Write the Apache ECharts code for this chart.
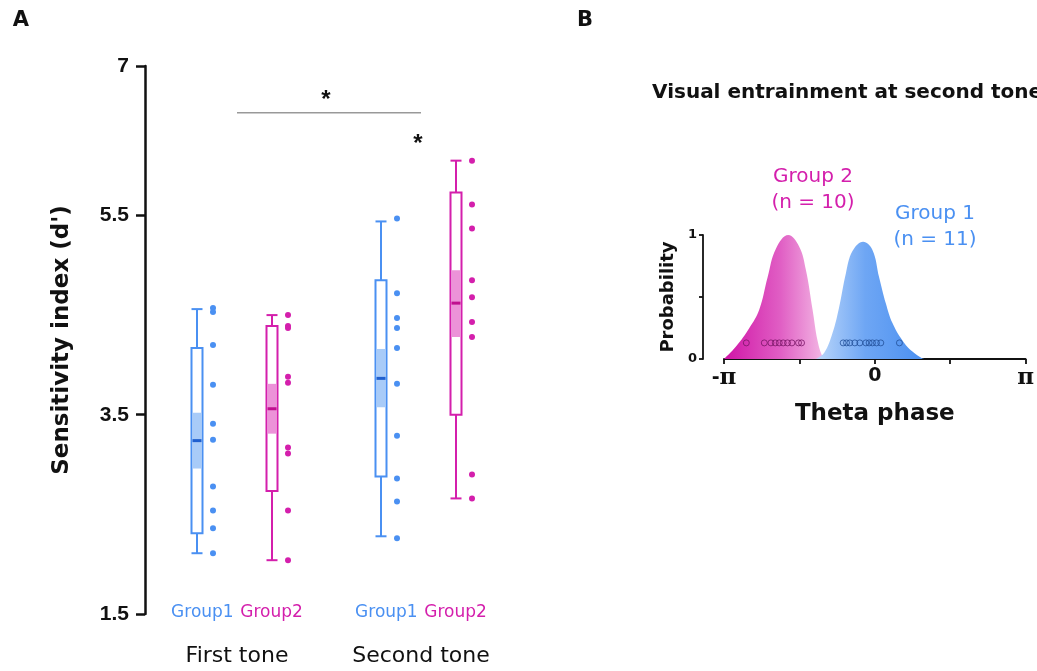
<!DOCTYPE html>
<html>
<head>
<meta charset="utf-8">
<script src="https://cdn.jsdelivr.net/npm/echarts@6/dist/echarts.min.js"></script>
<style>html,body{margin:0;padding:0;background:#fff}#c{width:1037px;height:671px}</style>
</head>
<body>
<div id="c"></div>
<script>
// ---------- Panel A data ----------
const categories = ['First tone', 'Second tone'];
const groupNames = ['Group1', 'Group2'];
const yTicksA = [1.5, 3.5, 5.5, 7];
// box stats per category: [First tone, Second tone]
const g1Min = [2.11, 2.28];
const g1Q1 = [2.31, 2.88];
const g1NotchLo = [2.96, 3.575];
const g1Median = [3.24, 3.865];
const g1NotchHi = [3.52, 4.16];
const g1Q3 = [4.17, 4.85];
const g1Max = [4.56, 5.44];
const g2Min = [2.04, 2.66];
const g2Q1 = [2.735, 3.50];
const g2NotchLo = [3.31, 4.28];
const g2Median = [3.56, 4.62];
const g2NotchHi = [3.81, 4.95];
const g2Q3 = [4.39, 5.73];
const g2Max = [4.50, 6.05];
// individual subjects
const g1FirstPts = [4.57, 4.53, 4.20, 3.80, 3.41, 3.25, 2.78, 2.54, 2.36, 2.11];
const g2FirstPts = [4.50, 4.39, 4.37, 3.88, 3.82, 3.17, 3.11, 2.54, 2.04];
const g1SecondPts = [5.47, 4.72, 4.47, 4.37, 4.17, 3.81, 3.29, 2.86, 2.63, 2.26];
const g2SecondPts = [6.05, 5.61, 5.37, 4.85, 4.68, 4.43, 4.28, 2.90, 2.66];
const sigBarValue = [6.53, 6.53];

// ---------- Panel B data ----------
const g2Theta = [-3.1416, -2.892, -2.614, -2.406, -2.233, -2.060, -1.803, -1.574, -1.436, -1.297, -1.193, -1.089, -1.019];
const g2Density = [0.0, 0.10, 0.25, 0.40, 0.66, 0.89, 1.0, 0.906, 0.72, 0.40, 0.15, 0.02, 0.0];
const g1Theta = [-1.227, -1.054, -0.881, -0.742, -0.603, -0.465, -0.243, -0.049, 0.090, 0.229, 0.368, 0.576, 0.784, 0.992, 1.061];
const g1Density = [0.0, 0.05, 0.21, 0.42, 0.69, 0.87, 0.946, 0.88, 0.66, 0.45, 0.29, 0.15, 0.06, 0.005, 0.0];
const g2Phases = [-2.677, -2.302, -2.164, -2.074, -1.991, -1.908, -1.818, -1.727, -1.589, -1.526];
const g1Phases = [-0.659, -0.589, -0.520, -0.416, -0.312, -0.187, -0.118, -0.049, 0.035, 0.125, 0.513];
const phaseDotLevel = 0.13;

// ---------- styles ----------
const BLUE = '#4a90f2', BLUE_L = '#a8cbf8', BLUE_D = '#1f5fcf';
const MAG = '#d41fac', MAG_L = '#ec92d8', MAG_D = '#c0108f';
const BOX_OFF = [-40, 35];
const PT_OFF = 16;

function boxData(mn, q1, nlo, med, nhi, q3, mx) {
  return categories.map((c, i) => [i, mn[i], q1[i], nlo[i], med[i], nhi[i], q3[i], mx[i]]);
}
function makeBoxRender(off, col, light, dark) {
  return function (params, api) {
    const ci = api.value(0);
    const px = api.coord([ci, 0])[0] + off;
    const y = k => api.coord([ci, api.value(k)])[1];
    const yMin = y(1), yQ1 = y(2), yNlo = y(3), yMed = y(4), yNhi = y(5), yQ3 = y(6), yMax = y(7);
    const bw = 11, cw = 11, nw = 9;
    const ls = { stroke: col, lineWidth: 2 };
    return {
      type: 'group',
      children: [
        { type: 'line', shape: { x1: px, y1: yMax, x2: px, y2: yQ3 }, style: ls },
        { type: 'line', shape: { x1: px, y1: yQ1, x2: px, y2: yMin }, style: ls },
        { type: 'line', shape: { x1: px - cw / 2, y1: yMax, x2: px + cw / 2, y2: yMax }, style: ls },
        { type: 'line', shape: { x1: px - cw / 2, y1: yMin, x2: px + cw / 2, y2: yMin }, style: ls },
        { type: 'rect', shape: { x: px - bw / 2, y: yQ3, width: bw, height: yQ1 - yQ3 }, style: { fill: '#fff', stroke: col, lineWidth: 2 } },
        { type: 'rect', shape: { x: px - nw / 2, y: yNhi, width: nw, height: yNlo - yNhi }, style: { fill: light } },
        { type: 'line', shape: { x1: px - nw / 2, y1: yMed, x2: px + nw / 2, y2: yMed }, style: { stroke: dark, lineWidth: 3 } }
      ]
    };
  };
}
function ptsData(ci, arr) { return arr.map(v => [ci, v]); }

const chart = echarts.init(document.getElementById('c'), null, { renderer: 'canvas' });
const option = {
  animation: false,
  backgroundColor: '#fff',
  grid: [
    { left: 145, top: 66, width: 368, height: 548 },
    { left: 724, top: 235, width: 302.4, height: 124 }
  ],
  xAxis: [
    {
      gridIndex: 0, type: 'category', data: categories, boundaryGap: true,
      axisLine: { show: false }, axisTick: { show: false }, splitLine: { show: false },
      axisLabel: {
        margin: -12, interval: 0,
        formatter: v => '{g1|' + groupNames[0] + '}  {g2|' + groupNames[1] + '}\n{t|' + v + '}',
        rich: {
          g1: { color: BLUE, fontSize: 17, fontFamily: 'DejaVu Sans', lineHeight: 22 },
          g2: { color: MAG, fontSize: 17, fontFamily: 'DejaVu Sans', lineHeight: 22 },
          t: { color: '#111', fontSize: 22, fontFamily: 'DejaVu Sans', lineHeight: 64 }
        }
      }
    },
    {
      gridIndex: 1, type: 'value', min: -Math.PI, max: Math.PI, interval: Math.PI / 2,
      splitLine: { show: false },
      axisLine: { onZero: false, lineStyle: { color: '#111', width: 1.8 } },
      axisTick: { length: 5, lineStyle: { color: '#111', width: 1.8 } },
      axisLabel: {
        margin: 8, showMinLabel: true, showMaxLabel: true,
        formatter: v => {
          const k = Math.round(v / (Math.PI / 2));
          if (k === -2) return '{s|-}{p|π}';
          if (k === 0) return '{s|0}';
          if (k === 2) return '{p|π}';
          return '';
        },
        rich: {
          s: { fontFamily: 'DejaVu Sans', fontWeight: 'bold', fontSize: 19, color: '#111' },
          p: { fontFamily: 'DejaVu Serif', fontWeight: 'bold', fontSize: 23, color: '#111' }
        }
      },
      name: 'Theta phase', nameLocation: 'middle', nameGap: 44,
      nameTextStyle: { fontFamily: 'DejaVu Sans', fontWeight: 'bold', fontSize: 23, color: '#111' }
    }
  ],
  yAxis: [
    {
      gridIndex: 0, type: 'value', min: 1.5, max: 7, interval: 0.5,
      splitLine: { show: false },
      axisLine: { show: true, onZero: false, lineStyle: { color: '#111', width: 2.5 } },
      axisTick: { show: true, length: 9, customValues: yTicksA, lineStyle: { color: '#111', width: 2.5 } },
      axisLabel: {
        customValues: yTicksA, margin: 16,
        fontFamily: 'Liberation Sans', fontWeight: 'bold', fontSize: 21, color: '#111'
      },
      name: "Sensitivity index (d')", nameLocation: 'middle', nameGap: 71, nameRotate: 90,
      nameTextStyle: { fontFamily: 'DejaVu Sans', fontWeight: 'bold', fontSize: 23, color: '#111' }
    },
    {
      gridIndex: 1, type: 'value', min: 0, max: 1, interval: 0.5, offset: 21,
      splitLine: { show: false },
      axisLine: { show: true, onZero: false, lineStyle: { color: '#111', width: 1.8 } },
      axisTick: { show: true, length: 4, lineStyle: { color: '#111', width: 1.8 } },
      axisLabel: {
        margin: 6, formatter: v => (v === 0.5 ? '' : String(v)),
        fontFamily: 'DejaVu Sans', fontWeight: 'bold', fontSize: 13, color: '#111'
      },
      name: 'Probability', nameLocation: 'middle', nameGap: 26, nameRotate: 90,
      nameTextStyle: { fontFamily: 'DejaVu Sans', fontWeight: 'bold', fontSize: 18, color: '#111' }
    }
  ],
  series: [
    {
      type: 'line', xAxisIndex: 0, yAxisIndex: 0, data: sigBarValue, symbol: 'none',
      lineStyle: { color: '#999', width: 1.5 }, silent: true, z: 1
    },
    {
      type: 'custom', xAxisIndex: 0, yAxisIndex: 0, renderItem: makeBoxRender(BOX_OFF[0], BLUE, BLUE_L, BLUE_D),
      data: boxData(g1Min, g1Q1, g1NotchLo, g1Median, g1NotchHi, g1Q3, g1Max),
      encode: { x: 0, y: [1, 2, 3, 4, 5, 6, 7] }, z: 3
    },
    {
      type: 'custom', xAxisIndex: 0, yAxisIndex: 0, renderItem: makeBoxRender(BOX_OFF[1], MAG, MAG_L, MAG_D),
      data: boxData(g2Min, g2Q1, g2NotchLo, g2Median, g2NotchHi, g2Q3, g2Max),
      encode: { x: 0, y: [1, 2, 3, 4, 5, 6, 7] }, z: 3
    },
    {
      type: 'scatter', xAxisIndex: 0, yAxisIndex: 0, symbolSize: 6, symbolOffset: [BOX_OFF[0] + PT_OFF, 0],
      itemStyle: { color: BLUE, opacity: 1 },
      data: ptsData(0, g1FirstPts).concat(ptsData(1, g1SecondPts)), z: 4
    },
    {
      type: 'scatter', xAxisIndex: 0, yAxisIndex: 0, symbolSize: 6, symbolOffset: [BOX_OFF[1] + PT_OFF, 0],
      itemStyle: { color: MAG, opacity: 1 },
      data: ptsData(0, g2FirstPts).concat(ptsData(1, g2SecondPts)), z: 4
    },
    {
      type: 'line', xAxisIndex: 1, yAxisIndex: 1, smooth: 0.4, symbol: 'none',
      data: g2Theta.map((t, i) => [t, g2Density[i]]),
      lineStyle: { width: 0 },
      areaStyle: {
        opacity: 1,
        color: new echarts.graphic.LinearGradient(0, 0, 1, 0, [
          { offset: 0, color: '#d014a6' }, { offset: 0.55, color: '#e05ec4' }, { offset: 1, color: '#f4bde6' }
        ])
      }, z: 2
    },
    {
      type: 'line', xAxisIndex: 1, yAxisIndex: 1, smooth: 0.4, symbol: 'none',
      data: g1Theta.map((t, i) => [t, g1Density[i]]),
      lineStyle: { width: 0 },
      areaStyle: {
        opacity: 1,
        color: new echarts.graphic.LinearGradient(0, 0, 1, 0, [
          { offset: 0, color: '#bcd7fa' }, { offset: 0.45, color: '#6ea6f4' }, { offset: 1, color: '#4a8ff0' }
        ])
      }, z: 2
    },
    {
      type: 'scatter', xAxisIndex: 1, yAxisIndex: 1, symbolSize: 6,
      itemStyle: { color: 'rgba(0,0,0,0)', borderColor: '#7a1768', borderWidth: 1 },
      data: g2Phases.map(p => [p, phaseDotLevel]), z: 5
    },
    {
      type: 'scatter', xAxisIndex: 1, yAxisIndex: 1, symbolSize: 6,
      itemStyle: { color: 'rgba(0,0,0,0)', borderColor: '#22509a', borderWidth: 1 },
      data: g1Phases.map(p => [p, phaseDotLevel]), z: 5
    }
  ],
  graphic: [
    { type: 'text', x: 21, y: 21, style: { text: 'A', fontFamily: 'DejaVu Sans', fontWeight: 'bold', fontSize: 21, fill: '#111', align: 'center', verticalAlign: 'middle' } },
    { type: 'text', x: 585, y: 21, style: { text: 'B', fontFamily: 'DejaVu Sans', fontWeight: 'bold', fontSize: 21, fill: '#111', align: 'center', verticalAlign: 'middle' } },
    { type: 'text', x: 326, y: 100, style: { text: '*', fontFamily: 'Liberation Sans', fontWeight: 'bold', fontSize: 24, fill: '#111', align: 'center', verticalAlign: 'middle' } },
    { type: 'text', x: 418, y: 144, style: { text: '*', fontFamily: 'Liberation Sans', fontWeight: 'bold', fontSize: 24, fill: '#111', align: 'center', verticalAlign: 'middle' } },
    { type: 'text', x: 652, y: 93, style: { text: 'Visual entrainment at second tone', fontFamily: 'DejaVu Sans', fontWeight: 'bold', fontSize: 20, fill: '#111', align: 'left', verticalAlign: 'middle' } },
    { type: 'text', x: 813, y: 177, style: { text: 'Group 2', fontFamily: 'DejaVu Sans', fontSize: 20, fill: MAG, align: 'center', verticalAlign: 'middle' } },
    { type: 'text', x: 813, y: 203, style: { text: '(n = 10)', fontFamily: 'DejaVu Sans', fontSize: 20, fill: MAG, align: 'center', verticalAlign: 'middle' } },
    { type: 'text', x: 935, y: 214, style: { text: 'Group 1', fontFamily: 'DejaVu Sans', fontSize: 20, fill: BLUE, align: 'center', verticalAlign: 'middle' } },
    { type: 'text', x: 935, y: 240, style: { text: '(n = 11)', fontFamily: 'DejaVu Sans', fontSize: 20, fill: BLUE, align: 'center', verticalAlign: 'middle' } }
  ]
};
chart.setOption(option);
</script>
</body>
</html>
